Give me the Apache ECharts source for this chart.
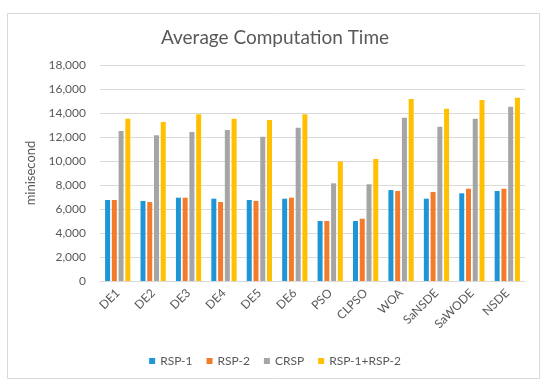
<!DOCTYPE html>
<html>
<head>
<meta charset="utf-8">
<script src="https://cdn.jsdelivr.net/npm/echarts@6/dist/echarts.min.js"></script>
<style>html,body{margin:0;padding:0;background:#fff;}#c{width:550px;height:390px;}</style>
</head>
<body>
<div id="c"></div>
<script>
var categories = ['DE1','DE2','DE3','DE4','DE5','DE6','PSO','CLPSO','WOA','SaNSDE','SaWODE','NSDE'];
var rsp1 = [6750,6670,6940,6860,6750,6860,5000,5000,7580,6860,7310,7500];
var rsp2 = [6750,6580,6940,6580,6670,6940,5000,5190,7500,7420,7690,7690];
var crsp = [12500,12140,12420,12580,12030,12780,8140,8060,13610,12860,13530,14530];
var both = [13530,13250,13890,13530,13420,13890,9970,10170,15170,14360,15080,15280];
var seriesNames = ['RSP-1','RSP-2','CRSP','RSP-1+RSP-2'];
var colors = ['#1E96D6','#F47B2A','#A5A5A5','#FFC000'];

var chart = echarts.init(document.getElementById('c'));
var font = 'Lato, "Open Sans", sans-serif';
var data = [rsp1, rsp2, crsp, both];
chart.setOption({
  animation: false,
  textStyle: {fontFamily: font},
  title: {
    text: 'Average Computation Time',
    left: 'center', top: 23,
    textStyle: {fontSize: 19, fontWeight: 'normal', color: '#595959', fontFamily: font}
  },
  graphic: [{
    type: 'rect', shape: {x: 7.5, y: 13.5, width: 532, height: 365},
    style: {fill: 'none', stroke: '#D9D9D9', lineWidth: 1}, silent: true, z: -1
  }],
  legend: {
    top: 350, left: 'center', itemWidth: 6, itemHeight: 6, itemGap: 14,
    icon: 'rect',
    textStyle: {fontSize: 12, color: '#595959', fontFamily: font},
    data: seriesNames
  },
  grid: {left: 100, right: 25, top: 65, bottom: 109},
  xAxis: {
    type: 'category', data: categories,
    axisLine: {lineStyle: {color: '#D9D9D9'}},
    axisTick: {show: false},
    axisLabel: {rotate: 45, fontSize: 12, color: '#595959', interval: 0, margin: 10}
  },
  yAxis: {
    type: 'value', min: 0, max: 18000, interval: 2000,
    name: 'minisecond', nameLocation: 'middle', nameGap: 48,
    nameTextStyle: {fontSize: 13, color: '#595959'},
    axisLine: {show: false}, axisTick: {show: false},
    splitLine: {lineStyle: {color: '#D9D9D9'}},
    axisLabel: {fontSize: 12, color: '#595959', margin: 14,
      formatter: function (v) { return v.toLocaleString('en-US'); }}
  },
  series: seriesNames.map(function (n, i) {
    return {name: n, type: 'bar', data: data[i], barWidth: 5, barGap: '35%',
      itemStyle: {color: colors[i]}};
  })
});
</script>
</body>
</html>
